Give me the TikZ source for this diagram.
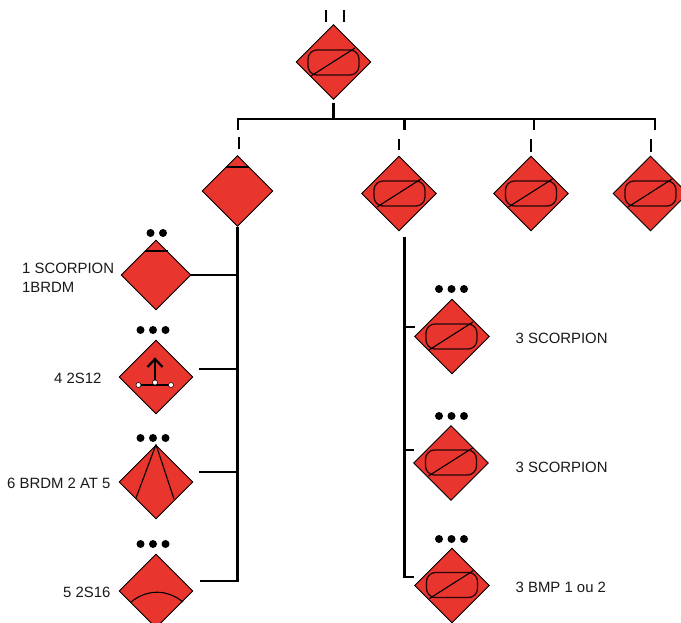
\documentclass[tikz,border=0pt]{standalone}
\usepackage{fontspec}
\setmainfont{Liberation Sans}
\usetikzlibrary{shapes.geometric}
\definecolor{unitred}{HTML}{E8352D}
\tikzset{
  unit/.style={diamond,aspect=1,inner sep=0pt,draw=black,line width=0.9pt,fill=unitred,minimum width=#1pt,minimum height=#1pt},
  unit/.default=75,
  link/.style={line width=2.4pt,black},
  tick/.style={line width=2pt,black},
  mark line/.style={line width=1.1pt,black},
  pill/.style={rectangle,rounded corners=9pt,draw=black!85!unitred,line width=1.3pt,minimum width=51pt,minimum height=25pt,inner sep=0pt},
  dotmark/.style={circle,fill=black,inner sep=0pt,minimum size=8pt},
  joint/.style={circle,fill=white,draw=black,line width=0.5pt,inner sep=0pt,minimum size=5pt},
  label/.style={font=\fontsize{14.9}{17}\selectfont,anchor=base west,inner sep=0pt,text=black!90}
}
\newcommand{\pillmark}[2]{%
  \node[pill] (#1p) at (#2) {};
  \draw[mark line] ([shift={(-22.5pt,-13.5pt)}]#1p.center) -- ([shift={(21.5pt,14.5pt)}]#1p.center);
}
\newcommand{\threedots}[3]{%
  \node[dotmark] (#1a) at (#2-12.5,#3) {};
  \node[dotmark] (#1b) at (#2,#3) {};
  \node[dotmark] (#1c) at (#2+12.5,#3) {};
}
\begin{document}
\begin{tikzpicture}[x=1pt,y=-1pt]
\useasboundingbox (0,0) rectangle (681,623);
\clip (0,0) rectangle (681,623);
% coordinates of free ends
\coordinate (bar) at (334,119);
\coordinate (barL) at (238,119);
\coordinate (barB) at (404.5,119);
\coordinate (barC) at (534,119);
\coordinate (barD) at (655,119);
\coordinate (trunkL) at (238,581);
\coordinate (trunkR) at (404.5,577);
% units
\node[unit=75] (top) at (333.5,62) {};
\node[unit=71] (A) at (237.5,191) {};
\node[unit=75] (B) at (399,193.5) {};
\node[unit=75] (C) at (531,193.5) {};
\node[unit=75] (D) at (650.5,193.5) {};
\node[unit=70] (a1) at (156,275) {};
\node[unit=74] (a2) at (156,377) {};
\node[unit=74] (a3) at (156,482) {};
\node[unit=74] (a4) at (156,591) {};
\node[unit=75] (b1) at (452,336.5) {};
\node[unit=75] (b2) at (451,463) {};
\node[unit=75] (b3) at (452,585.5) {};
% pills
\pillmark{top}{333.5,62.5}
\pillmark{B}{399.5,193.5}
\pillmark{C}{531,193.5}
\pillmark{D}{650.5,193.5}
\pillmark{b1}{451.5,336.5}
\pillmark{b2}{451,462.5}
\pillmark{b3}{452,585}
% main bar and stubs
\coordinate (topS) at (333.5,103);
\draw[tick] (326,10) -- (326,22);
\draw[tick] (344,10) -- (344,22);
\draw[link,line cap=rect] (barL) -- (barD);
\draw[link] (topS) -- (topS |- bar);
\draw[link] (barL) -- ++(0,11);
\draw[link] (barB) -- ++(0,11);
\draw[link] (barC) -- ++(0,11);
\draw[link] (barD) -- ++(0,11);
\draw[tick] (A.north) ++(1,-6) -- ++(0,-12);
\draw[tick] (B.north) ++(-0.5,-6) -- ++(0,-11);
\draw[tick] (C.north) ++(0,-4) -- ++(0,-13);
\draw[tick] (D.north) ++(0,-4) -- ++(0,-13);
% left trunk
\draw[link] (A.south) -- (A.south |- trunkL) -- ++(-38,0) coordinate (a4e);
\draw[link] (a1.east) -- (a1.east -| trunkL);
\coordinate (a2e) at (199,369);
\coordinate (a3e) at (199,472);
\draw[link] (a2e) -- (a2e -| trunkL);
\draw[link] (a3e) -- (a3e -| trunkL);
% right trunk
\coordinate (rs) at (404.5,237);
\draw[link] (rs) -- (trunkR) -- (414,577);
\draw[link] (rs |- 0,327) -- (415,327);
\draw[link] (rs |- 0,450) -- (414,450);
% marks of the left units
\draw[mark line] (226,167) -- (249,167);
\draw[mark line] (144.5,251) -- (167.5,251);
\draw[line width=2.2pt] (155,383) -- (155,359);
\draw[line width=2.2pt,line join=miter] (147.5,367) -- (155,359) -- (162.5,367);
\draw[line width=2.2pt] (138.5,385) -- (171,385);
\node[joint] (j1) at (138.5,385) {};
\node[joint] (j2) at (155,382.5) {};
\node[joint] (j3) at (171,385) {};
\draw[mark line] (a3.north) -- (136,498);
\draw[mark line] (a3.north) -- (174,499);
\draw[mark line] (131,602) .. controls (147,589) and (167,589) .. (183,602);
% dots
\node[dotmark] (d1) at (150.5,233) {};
\node[dotmark] (d2) at (163,233) {};
\threedots{e}{153}{330}
\threedots{f}{153}{438}
\threedots{g}{153}{544}
\threedots{h}{451.5}{289}
\threedots{i}{451.5}{416}
\threedots{k}{451.5}{539}
% labels
\node[label] (t1) at (22,274) {1 SCORPION};
\node[label] (t2) at (22,292) {1BRDM};
\node[label] (t3) at (54,383) {4 2S12};
\node[label] (t4) at (7,488) {6 BRDM 2 AT 5};
\node[label] (t5) at (63,597) {5 2S16};
\node[label] (t6) at (515.5,343) {3 SCORPION};
\node[label] (t7) at (515.5,472) {3 SCORPION};
\node[label] (t8) at (515.5,592) {3 BMP 1 ou 2};
\end{tikzpicture}
\end{document}
